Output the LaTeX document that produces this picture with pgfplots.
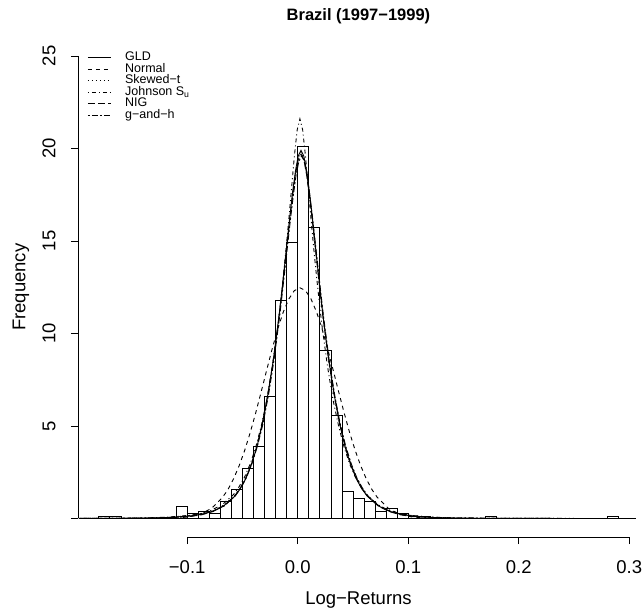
\documentclass[border=0pt]{standalone}
\usepackage{pgfplots}
\pgfplotsset{compat=1.18}
\usepackage{fontspec}
\setmainfont{Liberation Sans}

\tikzset{
  rdashed/.style={dash pattern=on 4pt off 4pt},
  rdotted/.style={dash pattern=on 1pt off 3pt},
  rdotdash/.style={dash pattern=on 1pt off 3pt on 4pt off 3pt},
  rlongdash/.style={dash pattern=on 7pt off 3pt},
  rtwodash/.style={dash pattern=on 2pt off 2pt on 6pt off 2pt},
}

\begin{document}
\begin{tikzpicture}
\begin{axis}[
  scale only axis, width=561pt, height=499.5pt,
  xmin=-0.1988, xmax=0.3088, ymin=-1, ymax=26,
  axis x line*=bottom, axis y line*=left,
  axis line style={draw=none},
  tick align=outside,
  major tick length=7pt,
  tick style={black, line width=0.7pt},
  xtick={-0.1,0,0.1,0.2,0.3},
  xticklabels={−0.1,0.0,0.1,0.2,0.3},
  ytick={0,5,10,15,20,25},
  yticklabels={,5,10,15,20,25},
  tick label style={font=\fontsize{18.5}{22}\selectfont},
  xticklabel style={anchor=base, yshift=-29.6pt},
  yticklabel style={xshift=-15.7pt, rotate=90, anchor=base},
  clip=false,
  legend cell align=left,
  legend image code/.code={\draw[#1] (0pt,0pt) -- (23pt,0pt);},
  legend style={draw=none, fill=none, at={(0.0165,0.971)}, anchor=north west,
    font=\fontsize{12.5}{14}\selectfont, row sep=0pt, column sep=13pt, inner sep=0pt,
    nodes={inner xsep=0.8pt, inner ysep=0.4pt, text height=8.3pt, text depth=2.4pt}},
]
\coordinate (SW) at (rel axis cs:0,0);
\draw[black, line width=0.7pt] (axis cs:-0.1,-1) -- (axis cs:0.3,-1);
\draw[black, line width=0.7pt] (axis cs:-0.1988,0) -- (axis cs:-0.1988,25);

% histogram
\addplot[ybar interval, draw=black, fill=none, line width=0.7pt, forget plot] coordinates {
(-0.18,0.13) (-0.17,0.13) (-0.16,0) (-0.15,0) (-0.14,0) (-0.13,0) (-0.12,0)
(-0.11,0.67) (-0.10,0.27) (-0.09,0.4) (-0.08,0.27) (-0.07,0.93) (-0.06,1.6)
(-0.05,2.7) (-0.04,3.9) (-0.03,6.6) (-0.02,11.8) (-0.01,14.9) (0.00,20.1)
(0.01,15.75) (0.02,9.1) (0.03,5.6) (0.04,1.47) (0.05,1.07) (0.06,0.93)
(0.07,0.4) (0.08,0.53) (0.09,0.27) (0.10,0.13) (0.11,0.13) (0.12,0) (0.13,0)
(0.14,0) (0.15,0) (0.16,0) (0.17,0.13) (0.18,0) (0.19,0) (0.20,0) (0.21,0)
(0.22,0) (0.23,0) (0.24,0) (0.25,0) (0.26,0) (0.27,0) (0.28,0.13) (0.29,0.13)
};

% GLD
\addplot[black, solid, line width=0.9pt, mark=none] coordinates {
(-0.197,0.004) (-0.167,0.009) (-0.137,0.024) (-0.117,0.055) (-0.097,0.14) (-0.087,0.23) (-0.077,0.39) (-0.067,0.68) (-0.057,1.2) (-0.052,1.6) (-0.047,2.15) (-0.042,2.9) (-0.037,3.85) (-0.032,5.1) (-0.027,6.7) (-0.022,8.6) (-0.017,10.9) (-0.0145,12.2) (-0.012,13.6) (-0.0095,15.0) (-0.007,16.4) (-0.0045,17.7) (-0.002,18.8) (0.0005,19.6) (0.003,19.9) (0.0055,19.6) (0.008,18.8) (0.0105,17.7) (0.013,16.4) (0.0155,15.0) (0.018,13.6) (0.0205,12.2) (0.023,10.9) (0.028,8.6) (0.033,6.7) (0.038,5.1) (0.043,3.85) (0.048,2.9) (0.053,2.15) (0.058,1.6) (0.063,1.2) (0.073,0.68) (0.083,0.39) (0.093,0.23) (0.103,0.14) (0.123,0.055) (0.143,0.024) (0.173,0.009) (0.203,0.004) (0.253,0.0015) (0.306,0.0006)
};
\addlegendentry{GLD}

% Normal
\addplot[black, rdashed, line width=0.9pt, mark=none] coordinates {
(-0.198,0) (-0.148,0.0002) (-0.128,0.003) (-0.118,0.011) (-0.108,0.034) (-0.098,0.094) (-0.088,0.239) (-0.078,0.548) (-0.068,1.14) (-0.063,1.58) (-0.058,2.15) (-0.053,2.85) (-0.048,3.68) (-0.043,4.64) (-0.038,5.71) (-0.033,6.86) (-0.028,8.04) (-0.023,9.19) (-0.018,10.26) (-0.013,11.17) (-0.008,11.87) (-0.003,12.32) (0.002,12.47) (0.007,12.32) (0.012,11.87) (0.017,11.17) (0.022,10.26) (0.027,9.19) (0.032,8.04) (0.037,6.86) (0.042,5.71) (0.047,4.64) (0.052,3.68) (0.057,2.85) (0.062,2.15) (0.067,1.58) (0.072,1.14) (0.082,0.548) (0.092,0.239) (0.102,0.094) (0.112,0.034) (0.122,0.011) (0.132,0.003) (0.152,0.0002) (0.306,0)
};
\addlegendentry{Normal}

% Skewed-t
\addplot[black, rdotted, line width=0.9pt, mark=none] coordinates {
(-0.197,0.006) (-0.167,0.012) (-0.137,0.03) (-0.117,0.065) (-0.097,0.16) (-0.087,0.25) (-0.077,0.42) (-0.067,0.72) (-0.057,1.25) (-0.052,1.65) (-0.047,2.2) (-0.042,2.9) (-0.037,3.85) (-0.032,5.05) (-0.027,6.6) (-0.022,8.5) (-0.017,10.8) (-0.0145,12.1) (-0.012,13.5) (-0.0095,14.9) (-0.007,16.3) (-0.0045,17.6) (-0.002,18.7) (0.0005,19.5) (0.003,19.8) (0.0055,19.5) (0.008,18.7) (0.0105,17.6) (0.013,16.3) (0.0155,14.9) (0.018,13.5) (0.0205,12.1) (0.023,10.8) (0.028,8.5) (0.033,6.6) (0.038,5.05) (0.043,3.85) (0.048,2.9) (0.053,2.2) (0.058,1.65) (0.063,1.25) (0.073,0.72) (0.083,0.42) (0.093,0.25) (0.103,0.16) (0.123,0.065) (0.143,0.03) (0.173,0.012) (0.203,0.006) (0.253,0.0025) (0.306,0.001)
};
\addlegendentry{Skewed−t}

% Johnson Su
\addplot[black, rdotdash, line width=0.9pt, mark=none] coordinates {
(-0.198,0.005) (-0.168,0.012) (-0.138,0.032) (-0.118,0.07) (-0.098,0.17) (-0.088,0.27) (-0.078,0.45) (-0.068,0.76) (-0.058,1.3) (-0.053,1.72) (-0.048,2.25) (-0.043,2.95) (-0.038,3.85) (-0.033,5.0) (-0.028,6.4) (-0.023,8.2) (-0.018,10.4) (-0.0155,11.7) (-0.013,13.1) (-0.0105,14.6) (-0.008,16.2) (-0.0055,17.9) (-0.003,19.6) (-0.0005,21.0) (0.002,21.6) (0.0045,21.0) (0.007,19.6) (0.0095,17.9) (0.012,16.2) (0.0145,14.6) (0.017,13.1) (0.0195,11.7) (0.022,10.4) (0.027,8.2) (0.032,6.4) (0.037,5.0) (0.042,3.85) (0.047,2.95) (0.052,2.25) (0.057,1.72) (0.062,1.3) (0.072,0.76) (0.082,0.45) (0.092,0.27) (0.102,0.17) (0.122,0.07) (0.142,0.032) (0.172,0.012) (0.202,0.005) (0.252,0.002) (0.306,0.0008)
};
\addlegendentry{Johnson S\textsubscript{u}}

% NIG
\addplot[black, rlongdash, line width=0.9pt, mark=none] coordinates {
(-0.197,0.0005) (-0.167,0.002) (-0.137,0.011) (-0.117,0.034) (-0.097,0.11) (-0.087,0.2) (-0.077,0.37) (-0.067,0.67) (-0.057,1.22) (-0.052,1.65) (-0.047,2.2) (-0.042,2.95) (-0.037,3.9) (-0.032,5.15) (-0.027,6.7) (-0.022,8.6) (-0.017,10.85) (-0.0145,12.15) (-0.012,13.5) (-0.0095,14.85) (-0.007,16.2) (-0.0045,17.5) (-0.002,18.6) (0.0005,19.4) (0.003,19.7) (0.0055,19.4) (0.008,18.6) (0.0105,17.5) (0.013,16.2) (0.0155,14.85) (0.018,13.5) (0.0205,12.15) (0.023,10.85) (0.028,8.6) (0.033,6.7) (0.038,5.15) (0.043,3.9) (0.048,2.95) (0.053,2.2) (0.058,1.65) (0.063,1.22) (0.073,0.67) (0.083,0.37) (0.093,0.2) (0.103,0.11) (0.123,0.034) (0.143,0.011) (0.173,0.002) (0.203,0.0005) (0.253,0) (0.306,0)
};
\addlegendentry{NIG}

% g-and-h
\addplot[black, rtwodash, line width=0.9pt, mark=none] coordinates {
(-0.1965,0.004) (-0.1665,0.009) (-0.1365,0.024) (-0.1165,0.055) (-0.0965,0.14) (-0.0865,0.23) (-0.0765,0.39) (-0.0665,0.68) (-0.0565,1.22) (-0.0515,1.65) (-0.0465,2.2) (-0.0415,2.95) (-0.0365,3.9) (-0.0315,5.1) (-0.0265,6.65) (-0.0215,8.55) (-0.0165,10.85) (-0.014,12.15) (-0.0115,13.5) (-0.009,14.85) (-0.0065,16.2) (-0.004,17.45) (-0.0015,18.55) (0.001,19.3) (0.0035,19.6) (0.006,19.3) (0.0085,18.55) (0.011,17.45) (0.0135,16.2) (0.016,14.85) (0.0185,13.5) (0.021,12.15) (0.0235,10.85) (0.0285,8.55) (0.0335,6.65) (0.0385,5.1) (0.0435,3.9) (0.0485,2.95) (0.0535,2.2) (0.0585,1.65) (0.0635,1.22) (0.0735,0.68) (0.0835,0.39) (0.0935,0.23) (0.1035,0.14) (0.1235,0.055) (0.1435,0.024) (0.1735,0.009) (0.2035,0.004) (0.2535,0.0015) (0.306,0.0006)
};
\addlegendentry{g−and−h}

\node[font=\bfseries\fontsize{16.5}{19}\selectfont, anchor=base] at ([yshift=16.5pt]rel axis cs:0.5,1) {Brazil (1997−1999)};
\node[font=\fontsize{18.5}{22}\selectfont, anchor=base] at ([yshift=-67.6pt]rel axis cs:0.5,0) {Log−Returns};
\node[font=\fontsize{18.5}{22}\selectfont, anchor=base, rotate=90] at ([xshift=-52.7pt]rel axis cs:0,0.5) {Frequency};
\end{axis}
\pgfresetboundingbox
\path[use as bounding box] ([shift={(-78pt,-72pt)}]SW) rectangle ++(644pt,609pt);
\end{tikzpicture}
\end{document}
